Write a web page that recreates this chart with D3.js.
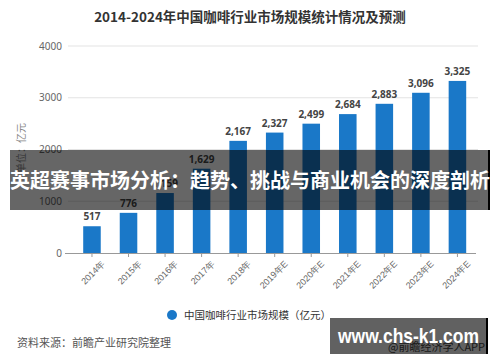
<!DOCTYPE html>
<html lang="zh">
<head>
<meta charset="utf-8">
<title>2014-2024年中国咖啡行业市场规模</title>
<script src="https://cdnjs.cloudflare.com/ajax/libs/d3/7.8.5/d3.min.js"></script>
<style>
  body { margin: 0; background: #fff; }
  svg { display: block; font-family: "Noto Sans CJK SC", "Noto Sans", sans-serif; }
</style>
</head>
<body>
<div id="chart"></div>
<script>
var years = ["2014年", "2015年", "2016年", "2017年", "2018年", "2019年E", "2020年E", "2021年E", "2022年E", "2023年E", "2024年E"];
var marketSize = [517, 776, 1159, 1629, 2167, 2327, 2499, 2684, 2883, 3096, 3325];
var yTicks = [0, 1000, 2000, 3000, 4000];

var width = 500, height = 362;
var svg = d3.select("#chart").append("svg")
    .attr("width", width)
    .attr("height", height);

var x = d3.scaleBand().domain(years).range([73.7, 475.7]).paddingInner(0.52).paddingOuter(0.26);
var y = d3.scaleLinear().domain([0, 4000]).range([253, 46]);

// title
svg.append("text")
    .attr("x", 250).attr("y", 22)
    .attr("text-anchor", "middle")
    .attr("font-size", 13.5).attr("font-weight", "bold")
    .attr("fill", "#333")
    .text("2014-2024年中国咖啡行业市场规模统计情况及预测");

// gridlines
svg.append("g").selectAll("line")
    .data(yTicks.filter(function(d){ return d > 0; }))
    .enter().append("line")
    .attr("x1", 68).attr("x2", 478)
    .attr("y1", function(d){ return y(d); })
    .attr("y2", function(d){ return y(d); })
    .attr("stroke", "#e3e3e3");

// y axis
var yAxis = svg.append("g")
    .attr("transform", "translate(64,0)")
    .call(d3.axisLeft(y).tickValues(yTicks).tickSize(0).tickPadding(2).tickFormat(d3.format("d")));
yAxis.select(".domain").remove();
yAxis.selectAll("text").attr("font-size", 10).attr("fill", "#666").attr("font-family", "Noto Sans, sans-serif");

svg.append("text")
    .attr("transform", "translate(25,148) rotate(-90)")
    .attr("text-anchor", "middle")
    .attr("font-size", 10).attr("fill", "#888")
    .text("单位：亿元");

// bars
svg.append("g").selectAll("rect")
    .data(marketSize)
    .enter().append("rect")
    .attr("x", function(d, i){ return x(years[i]); })
    .attr("y", function(d){ return y(d); })
    .attr("width", x.bandwidth())
    .attr("height", function(d){ return y(0) - y(d); })
    .attr("fill", "#1a78c8");

// value labels
svg.append("g").selectAll("text")
    .data(marketSize)
    .enter().append("text")
    .attr("x", function(d, i){ return x(years[i]) + x.bandwidth() / 2; })
    .attr("y", function(d){ return y(d) - 6; })
    .attr("text-anchor", "middle")
    .attr("font-size", 10).attr("font-weight", "bold")
    .attr("fill", "#444")
    .attr("font-family", "Noto Sans, sans-serif")
    .text(function(d){ return d3.format(",")(d); });

// x axis
var xAxis = svg.append("g")
    .attr("transform", "translate(0," + y(0) + ")")
    .call(d3.axisBottom(x).tickSize(4).tickSizeOuter(0));
xAxis.select(".domain").attr("stroke", "#999").attr("d", "M65,0.5H476");
xAxis.selectAll(".tick line").attr("stroke", "#999");
xAxis.selectAll("text")
    .attr("font-size", 9).attr("fill", "#666")
    .attr("text-anchor", "end")
    .attr("transform", "translate(4,2) rotate(-45)");

// legend
svg.append("circle").attr("cx", 172).attr("cy", 315).attr("r", 5).attr("fill", "#1a78c8");
svg.append("text")
    .attr("x", 184).attr("y", 319)
    .attr("font-size", 10.5).attr("fill", "#333")
    .text("中国咖啡行业市场规模（亿元）");

// source
svg.append("text")
    .attr("x", 17).attr("y", 347)
    .attr("font-size", 11).attr("fill", "#555")
    .text("资料来源：前瞻产业研究院整理");

// overlay banner
svg.append("rect")
    .attr("x", 10).attr("y", 150).attr("width", 480).attr("height", 60)
    .attr("fill", "rgba(0,0,0,0.6)");
svg.append("line")
    .attr("x1", 489).attr("x2", 489).attr("y1", 150).attr("y2", 210)
    .attr("stroke", "#000").attr("stroke-width", 2);
svg.append("text")
    .attr("x", 250).attr("y", 188)
    .attr("text-anchor", "middle")
    .attr("font-size", 20).attr("font-weight", "bold")
    .attr("fill", "#fff")
    .text("英超赛事市场分析：趋势、挑战与商业机会的深度剖析");

// watermark box
svg.append("text")
    .attr("x", 388).attr("y", 351)
    .attr("font-size", 11).attr("fill", "#444")
    .text("@前瞻经济学人APP");
svg.append("rect")
    .attr("x", 330).attr("y", 318).attr("width", 156).attr("height", 36)
    .attr("fill", "rgba(0,0,0,0.62)");
svg.append("line")
    .attr("x1", 487).attr("x2", 487).attr("y1", 318).attr("y2", 354)
    .attr("stroke", "#000").attr("stroke-width", 2);
svg.append("text")
    .attr("x", 338).attr("y", 343)
    .attr("font-size", 21).attr("font-weight", "bold")
    .attr("fill", "#fff")
    .attr("font-family", "Liberation Sans, Arial, sans-serif")
    .attr("textLength", 141).attr("lengthAdjust", "spacingAndGlyphs")
    .text("www.chs-k1.com");
</script>
</body>
</html>
